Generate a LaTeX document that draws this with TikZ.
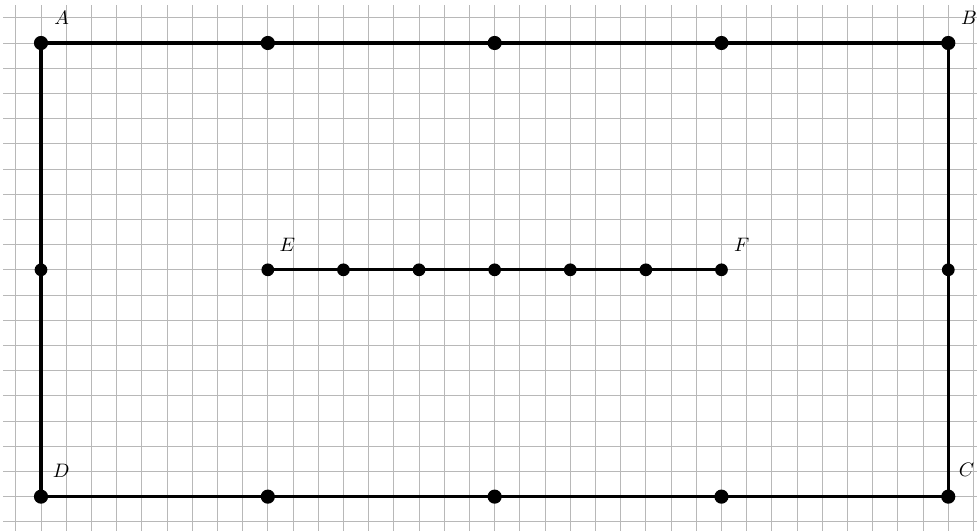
\documentclass[tikz,border=0pt]{standalone}
\begin{document}
\begin{tikzpicture}[x=0.5cm,y=0.5cm,
  gridline/.style={draw=black!28,line width=0.45pt},
  seg/.style={draw=black,line width=1.9pt},
  bigdot/.style={circle,fill=black,inner sep=0pt,minimum size=8pt},
  smalldot/.style={circle,fill=black,inner sep=0pt,minimum size=7.2pt},
  lbl/.style={inner sep=0pt,scale=1.1}]
\useasboundingbox (-1.627,-1.349) rectangle (37.14,19.706);
\draw[gridline,step=0.5cm] (-1.5,-1.5) grid (37.5,19.5);
% corners
\node[bigdot] (A) at (0,18) {};
\node[bigdot] (B) at (36,18) {};
\node[bigdot] (C) at (36,0) {};
\node[bigdot] (D) at (0,0) {};
% side midpoints
\node[bigdot] (t1) at (9,18) {};
\node[bigdot] (t2) at (18,18) {};
\node[bigdot] (t3) at (27,18) {};
\node[bigdot] (b1) at (9,0) {};
\node[bigdot] (b2) at (18,0) {};
\node[bigdot] (b3) at (27,0) {};
\node[smalldot] (l1) at (0,9) {};
\node[smalldot] (r1) at (36,9) {};
% E-F segment
\node[smalldot] (E) at (9,9) {};
\node[smalldot] (e1) at (12,9) {};
\node[smalldot] (e2) at (15,9) {};
\node[smalldot] (e3) at (18,9) {};
\node[smalldot] (e4) at (21,9) {};
\node[smalldot] (e5) at (24,9) {};
\node[smalldot] (F) at (27,9) {};
\draw[seg] (A.center) -- (B.center) -- (C.center) -- (D.center) -- cycle;
\draw[seg] (E.center) -- (F.center);
% labels
\node[lbl] (LA) at (0.82,19.0) {$A$};
\node[lbl] (LB) at (36.82,19.0) {$B$};
\node[lbl] (LC) at (36.72,1.05) {$C$};
\node[lbl] (LD) at (0.8,1.03) {$D$};
\node[lbl] (LE) at (9.78,9.98) {$E$};
\node[lbl] (LF) at (27.8,9.98) {$F$};
\end{tikzpicture}
\end{document}
